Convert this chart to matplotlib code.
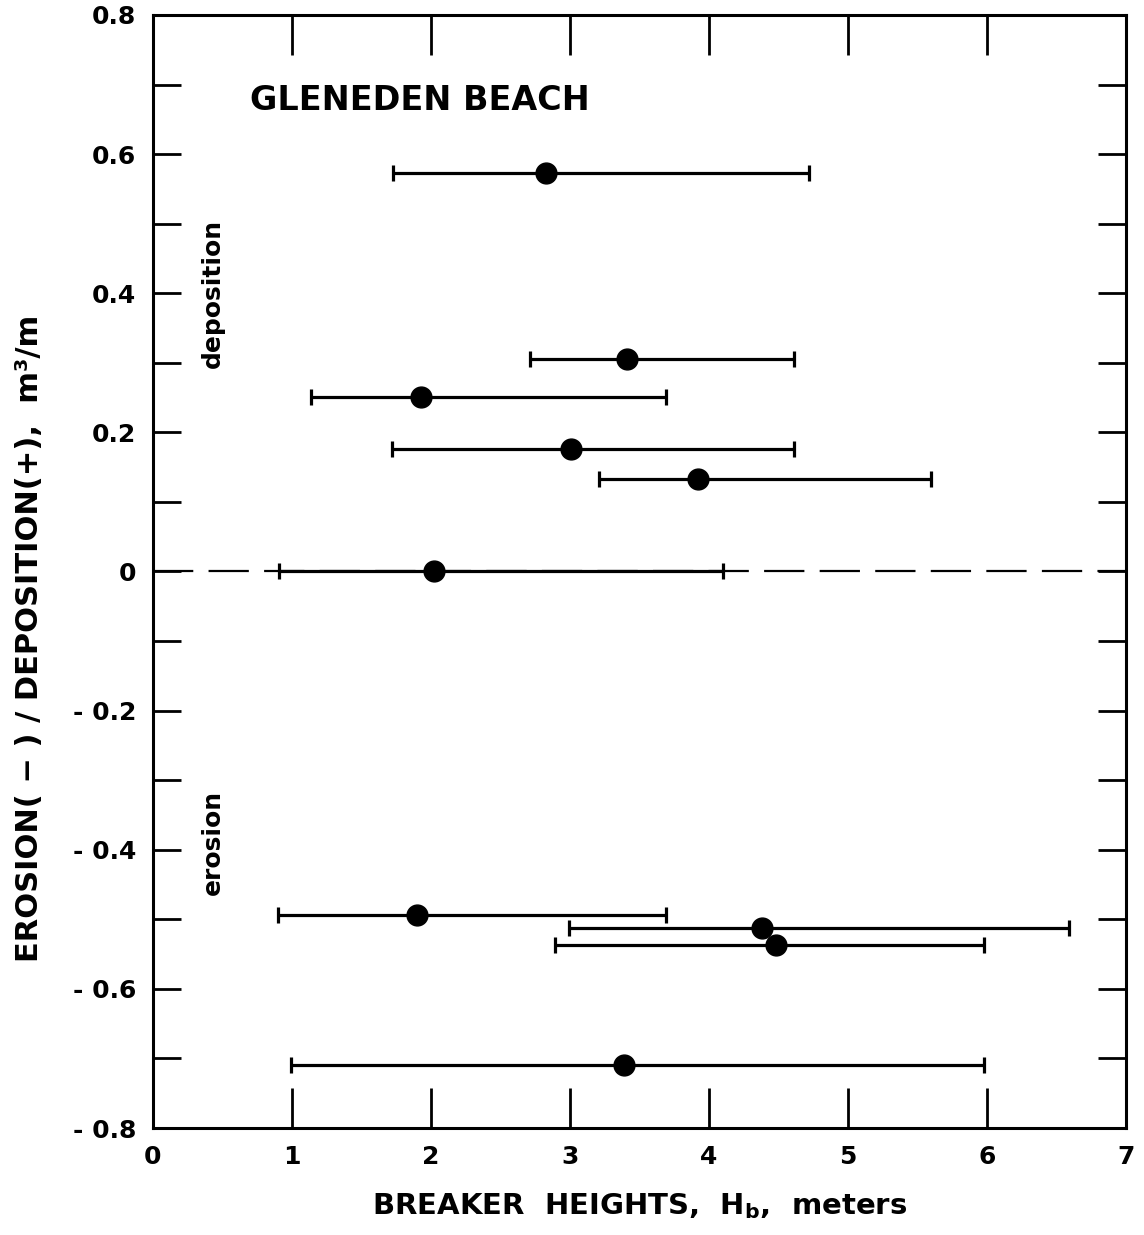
import matplotlib
matplotlib.use("Agg")
import matplotlib.pyplot as plt
from matplotlib.ticker import MultipleLocator, FixedLocator

# Breaker height ranges and volume change per profile
hb_mean = [2.83, 3.41, 1.93, 3.01, 3.92, 2.02, 1.90, 4.38, 4.48, 3.39]
hb_min = [1.73, 2.71, 1.14, 1.72, 3.21, 0.91, 0.90, 2.99, 2.89, 0.99]
hb_max = [4.72, 4.61, 3.69, 4.61, 5.60, 4.10, 3.69, 6.59, 5.98, 5.98]
volume = [0.573, 0.306, 0.251, 0.176, 0.133, 0.0, -0.494, -0.512, -0.537, -0.710]

y_ticks = [0.8, 0.6, 0.4, 0.2, 0.0, -0.2, -0.4, -0.6, -0.8]
y_tick_labels = ["0.8", "0.6", "0.4", "0.2", "0", "- 0.2", "- 0.4", "- 0.6", "- 0.8"]
x_ticks = [0, 1, 2, 3, 4, 5, 6, 7]

plt.rcParams["font.family"] = "DejaVu Sans"
plt.rcParams["font.weight"] = "bold"

fig = plt.figure(figsize=(11.44, 12.35), dpi=100)
ax = fig.add_axes([0.1337, 0.0866, 0.8506, 0.9013])

# zero line
lw0 = 1.6
ax.axhline(0, color="black", lw=lw0, linestyle=(0, (29 / lw0, 11 / lw0)), zorder=1)

xerr = [[m - lo for m, lo in zip(hb_mean, hb_min)],
        [hi - m for m, hi in zip(hb_mean, hb_max)]]
ax.errorbar(hb_mean, volume, xerr=xerr, fmt="o", color="black",
            markersize=15, elinewidth=2.3, capsize=6, capthick=2.3, zorder=3)

ax.set_xlim(0, 7)
ax.set_ylim(-0.8, 0.8)
ax.xaxis.set_major_locator(FixedLocator(x_ticks))
ax.set_xticklabels([str(t) for t in x_ticks])
ax.yaxis.set_major_locator(FixedLocator(y_ticks))
ax.set_yticklabels(y_tick_labels)
ax.yaxis.set_minor_locator(MultipleLocator(0.1))

ax.tick_params(axis="x", which="major", direction="in", length=29, width=2,
               top=True, labelsize=18, pad=12)
ax.tick_params(axis="y", which="both", direction="in", length=20, width=2,
               right=True, labelsize=18, pad=12)
for sp in ax.spines.values():
    sp.set_linewidth(2.2)

ax.set_xlabel(r"BREAKER  HEIGHTS,  H$_\mathbf{b}$,  meters", fontsize=21,
              fontweight="bold", labelpad=16)
ax.set_ylabel("EROSION( − ) / DEPOSITION(+),  m³/m", fontsize=22,
              fontweight="bold", labelpad=22)
ax.yaxis.set_label_coords(-0.112, 0.44)

ax.text(0.7, 0.677, "GLENEDEN BEACH", fontsize=24, fontweight="bold",
        va="center", ha="left")
ax.text(0.43, 0.4, "deposition", rotation=90, fontsize=18, fontweight="bold",
        va="center", ha="center")
ax.text(0.43, -0.39, "erosion", rotation=90, fontsize=18, fontweight="bold",
        va="center", ha="center")

fig.savefig("out.png", dpi=100)
